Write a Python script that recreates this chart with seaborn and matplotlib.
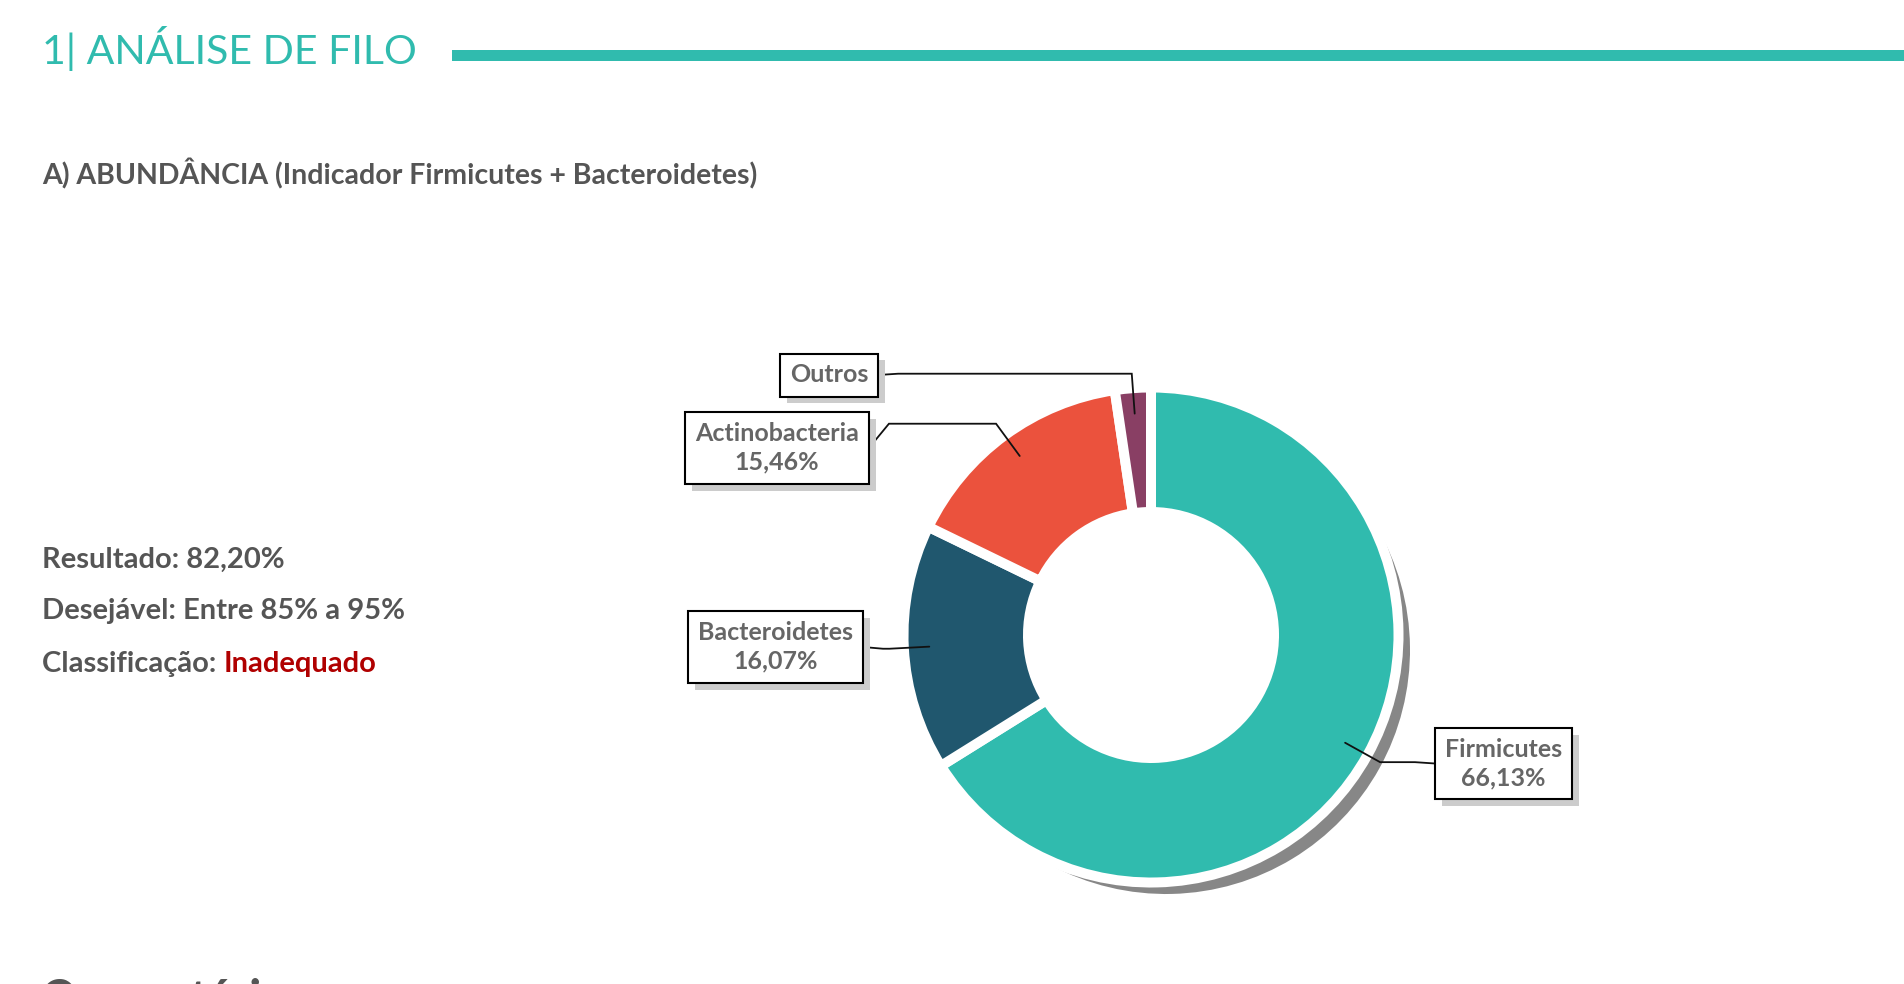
import numpy as np
import matplotlib
matplotlib.use("Agg")
import matplotlib.pyplot as plt
import matplotlib.patheffects as pe
from matplotlib.patches import Circle, Rectangle
import seaborn as sns

# ---------------- data ----------------
categories = ["Firmicutes", "Bacteroidetes", "Actinobacteria", "Outros"]
values = [66.13, 16.07, 15.46, 2.34]
value_labels = ["66,13%", "16,07%", "15,46%", ""]
slice_colors = ["#30BBAE", "#20576E", "#EB523D", "#893F64"]

title_text = "1| ANÁLISE DE FILO"
subtitle_text = "A) ABUNDÂNCIA (Indicador Firmicutes + Bacteroidetes)"
result_label, result_value = "Resultado: ", "82,20%"
desired_text = "Desejável: Entre 85% a 95%"
class_label, class_value = "Classificação: ", "Inadequado"
next_section = "Comentários"

# ---------------- layout ----------------
W, H = 1904, 984
def Y(y):
    return H - y

sns.set_theme(style="white")
plt.rcParams["font.family"] = ["Lato", "DejaVu Sans"]

fig = plt.figure(figsize=(W / 100, H / 100), dpi=100)
ax = fig.add_axes([0, 0, 1, 1])

cx, cy = 1151, Y(635)
R = 247.5
ring = 124.5
palette = sns.color_palette(slice_colors)

# shadow of the big slice
ax.pie(values, colors=["#878787", "none", "none", "none"], radius=244,
       center=(cx + 15, cy - 15), startangle=90, counterclock=False,
       wedgeprops=dict(linewidth=0, zorder=1))
ax.add_patch(Circle((cx, cy), R - ring, color="white", zorder=1.5))
# donut
ax.pie(values, colors=palette, radius=R, center=(cx, cy), startangle=90,
       counterclock=False,
       wedgeprops=dict(width=ring, edgecolor="white", linewidth=7.2, zorder=2))

ax.set_xlim(0, W)
ax.set_ylim(0, H)
ax.set_aspect("equal")
ax.axis("off")

# ---------------- labels ----------------
label_pos = [(1503.5, 763.5), (775.5, 647), (777, 448), (829, 375)]
texts = []
for cat, vl, (lx, ly) in zip(categories, value_labels, label_pos):
    s = cat if not vl else f"{cat}\n{vl}"
    t = ax.text(lx, Y(ly), s, ha="center", va="center", fontsize=18,
                fontweight="bold", color="#666666", linespacing=1.3,
                bbox=dict(boxstyle="square,pad=0.4", fc="white", ec="black", lw=1.5),
                zorder=6)
    t.get_bbox_patch().set_path_effects([
        pe.SimplePatchShadow(offset=(5, -5), shadow_rgbFace="#CCCCCC", alpha=1.0),
        pe.Normal()])
    texts.append(t)

fig.canvas.draw()
renderer = fig.canvas.get_renderer()
inv = ax.transData.inverted()

cum = np.cumsum(values)
mids = np.deg2rad(90 - (cum - np.array(values) / 2) * 3.6)
for t, a, (lx, ly) in zip(texts, mids, label_pos):
    bb = t.get_bbox_patch().get_window_extent(renderer)
    (x0, y0), (x1, y1) = inv.transform([[bb.x0, bb.y0], [bb.x1, bb.y1]])
    ax_, ay_ = cx + 222 * np.cos(a), cy + 222 * np.sin(a)
    ex, ey = cx + 262 * np.cos(a), cy + 262 * np.sin(a)
    if lx > cx:
        edge = x0
        px = max(edge - 20, ex)
    else:
        edge = x1
        px = min(edge + 20, ex)
    ax.plot([ax_, ex, px, edge], [ay_, ey, ey, Y(ly)], color="#111111",
            lw=1.3, zorder=5, solid_joinstyle="miter")

# ---------------- header & side text ----------------
ax.text(42, Y(64), title_text, fontsize=29.5, fontweight="normal",
        color="#30BBAE", ha="left", va="baseline")
ax.add_patch(Rectangle((452, Y(61)), W - 452, 11, color="#30BBAE", lw=0))

ax.text(42, Y(184), subtitle_text, fontsize=20.5, fontweight="bold",
        color="#555555", ha="left", va="baseline")

grey = "#555555"
ax.text(42, Y(568), result_label + result_value, fontsize=21,
        fontweight="bold", color=grey, ha="left", va="baseline")
ax.text(42, Y(619), desired_text, fontsize=21, fontweight="bold",
        color=grey, ha="left", va="baseline")
tc = ax.text(42, Y(672), class_label, fontsize=21, fontweight="bold",
             color=grey, ha="left", va="baseline")
ax.annotate(class_value, xy=(1, 0), xycoords=tc, fontsize=21,
            fontweight="bold", color="#B00000", ha="left", va="bottom")

ax.text(40, Y(1014), next_section, fontsize=34, fontweight="bold",
        color=grey, ha="left", va="baseline")

fig.savefig("out.png", dpi=100, facecolor="white")
